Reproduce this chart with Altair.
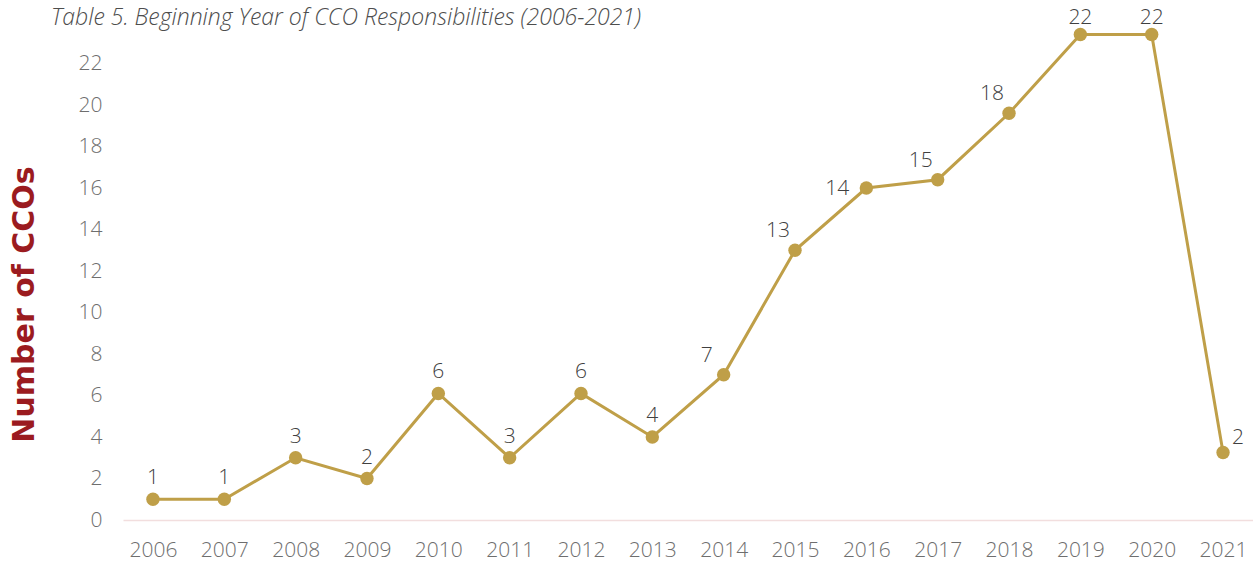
import altair as alt
import pandas as pd

years = [str(y) for y in range(2006, 2022)]
plotted = [1, 1, 3, 2, 6.1, 3, 6.1, 4, 7, 13, 16, 16.4, 19.6, 23.4, 23.4, 3.25]
labels = ["1", "1", "3", "2", "6", "3", "6", "4", "7", "13", "14", "15", "18", "22", "22", "2"]
placement = ["top"] * 8 + ["upleft", "upleft", "left", "upleft", "upleft", "topclose", "topclose", "upright"]
y_ticks = list(range(0, 23, 2))
title_text = "Table 5. Beginning Year of CCO Responsibilities (2006-2021)"
y_title = "Number of CCOs"

df = pd.DataFrame({"year": years, "value": plotted, "label": labels, "place": placement})

FONT = "Open Sans"
GOLD = "#BF9F48"

x = alt.X(
    "year:N", sort=years,
    scale=alt.Scale(type="point", padding=0.42),
    axis=alt.Axis(title=None, labelAngle=0, ticks=False, grid=False,
                  domainColor="#F2DEDE", domainWidth=1.5,
                  labelFontSize=21, labelColor="#6e6e6e", labelFont=FONT,
                  labelFontWeight=300, labelPadding=19),
)
y = alt.Y(
    "value:Q",
    scale=alt.Scale(domain=[0, 24], nice=False, zero=True),
    axis=alt.Axis(values=y_ticks, title=y_title, domain=False, ticks=False, grid=False,
                  labelPadding=21, labelFontSize=21, labelColor="#6e6e6e",
                  labelFont=FONT, labelFontWeight=300,
                  titleFont="DejaVu Sans", titleFontSize=30, titleFontWeight="bold",
                  titleColor="#9B1B1F", titleAngle=270, titleAlign="center",
                  titleBaseline="middle", titleX=-99, titleY=282),
)

base = alt.Chart(df).encode(x=x, y=y)
line = base.mark_line(color=GOLD, strokeWidth=3)
pts = base.mark_circle(color=GOLD, size=180, opacity=1)

txt_style = dict(fontSize=21, color="#404040", font=FONT, fontWeight=300, baseline="alphabetic")
lab_top = base.mark_text(dy=-15, align="center", **txt_style).encode(text="label:N").transform_filter(alt.datum.place == "top")
lab_close = base.mark_text(dy=-10, align="center", **txt_style).encode(text="label:N").transform_filter(alt.datum.place == "topclose")
lab_ul = base.mark_text(dx=-17, dy=-13, align="center", **txt_style).encode(text="label:N").transform_filter(alt.datum.place == "upleft")
lab_l = base.mark_text(dx=-17, dy=7, align="right", **txt_style).encode(text="label:N").transform_filter(alt.datum.place == "left")
lab_ur = base.mark_text(dx=15, dy=-9, align="center", **txt_style).encode(text="label:N").transform_filter(alt.datum.place == "upright")

title = alt.Chart(pd.DataFrame({"t": [title_text]})).mark_text(
    align="right", baseline="alphabetic", fontSize=23, font=FONT, fontStyle="italic",
    fontWeight=300, color="#4d4d4d"
).encode(text="t:N", x=alt.value(518), y=alt.value(3))

chart = alt.layer(line, pts, lab_top, lab_close, lab_ul, lab_l, lab_ur, title).properties(
    width=1130, height=498,
    autosize=alt.AutoSizeParams(type="none"),
    padding={"left": 123, "top": 22, "right": 0, "bottom": 44},
).configure(background="white").configure_view(stroke=None, strokeWidth=0)

chart.save("out.html", embed_options={"renderer": "svg", "actions": False})
